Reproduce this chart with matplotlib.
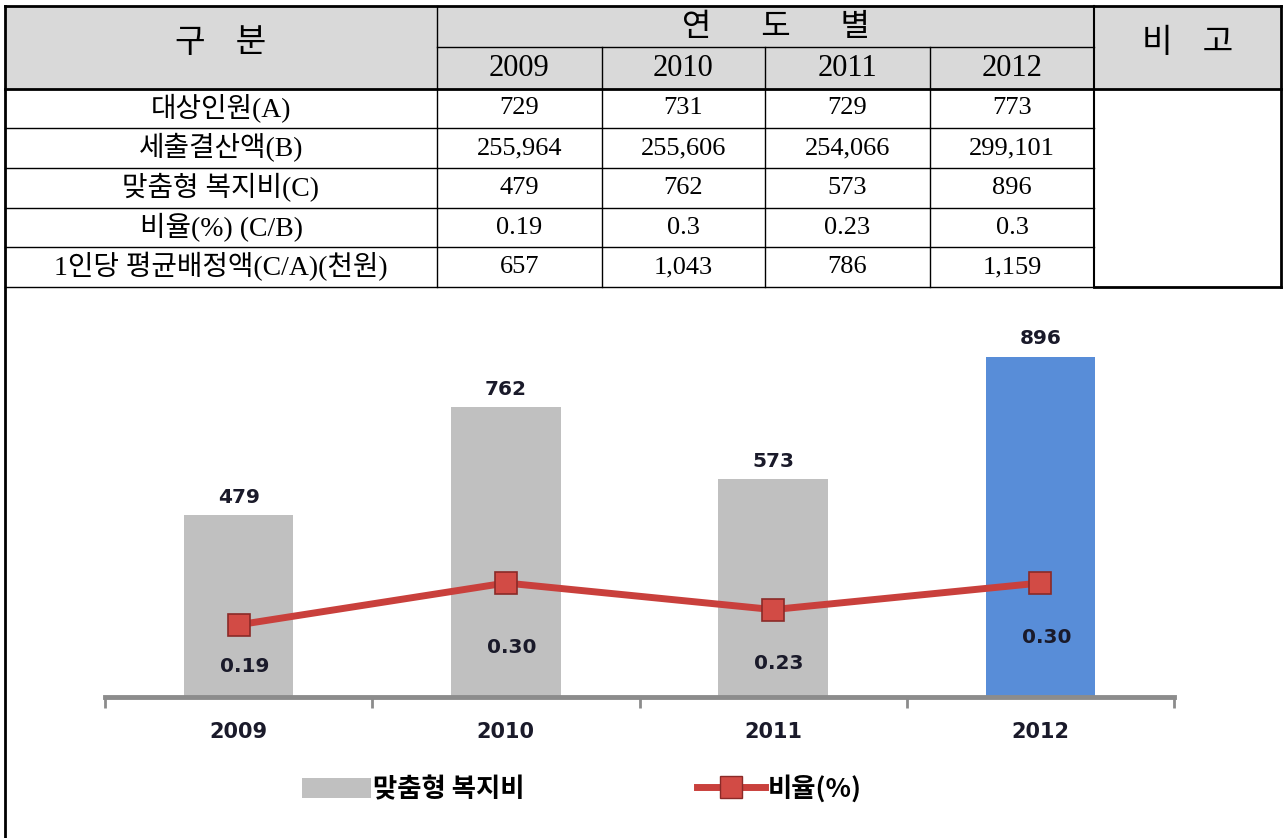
import matplotlib
matplotlib.use("Agg")
import matplotlib.pyplot as plt
from matplotlib.patches import Patch
from matplotlib.lines import Line2D

# data
years = ["2009", "2010", "2011", "2012"]
row_labels = ["대상인원(A)", "세출결산액(B)", "맞춤형 복지비(C)", "비율(%) (C/B)",
              "1인당 평균배정액(C/A)(천원)"]
targets = ["729", "731", "729", "773"]
spending = ["255,964", "255,606", "254,066", "299,101"]
welfare_txt = ["479", "762", "573", "896"]
ratio_txt = ["0.19", "0.3", "0.23", "0.3"]
per_person = ["657", "1,043", "786", "1,159"]

welfare = [479, 762, 573, 896]
ratio = [0.19, 0.30, 0.23, 0.30]

W, H = 1283, 838
fig = plt.figure(figsize=(W / 100, H / 100), dpi=100)

# ---------- table drawn in pixel coords ----------
tab = fig.add_axes([0, 0, 1, 1])
tab.set_xlim(0, W)
tab.set_ylim(H, 0)
tab.axis("off")

cols = [5, 437, 602, 765, 930, 1094, 1281]
rows = [6, 47, 89, 128, 168, 208, 247, 287]
serif = ["Liberation Serif", "Noto Sans CJK KR"]
kfont = ["Noto Sans CJK KR"]

tab.add_patch(plt.Rectangle((cols[0], rows[0]), cols[-1] - cols[0], rows[2] - rows[0],
                            facecolor="#d9d9d9", edgecolor="none", zorder=0))

k = "black"
# outer frame and header lines
tab.plot([cols[0], cols[-1]], [rows[0], rows[0]], color=k, lw=2)
tab.plot([cols[0], cols[0]], [rows[0], H], color=k, lw=2)
tab.plot([cols[-1], cols[-1]], [rows[0], rows[-1]], color=k, lw=2)
tab.plot([cols[0], cols[-1]], [rows[2], rows[2]], color=k, lw=2)
tab.plot([cols[1], cols[5]], [rows[1], rows[1]], color=k, lw=1)
# vertical lines
tab.plot([cols[1], cols[1]], [rows[0], rows[-1]], color=k, lw=1)
tab.plot([cols[5], cols[5]], [rows[0], rows[-1]], color=k, lw=1.5)
for x in cols[2:5]:
    tab.plot([x, x], [rows[1], rows[-1]], color=k, lw=1)
# row lines
for y in rows[3:-1]:
    tab.plot([cols[0], cols[5]], [y, y], color=k, lw=1)
tab.plot([cols[0], cols[5]], [rows[-1], rows[-1]], color=k, lw=1)
tab.plot([cols[5], cols[-1]], [rows[-1], rows[-1]], color=k, lw=2)

# header text
tab.text((cols[0] + cols[1]) / 2, (rows[0] + rows[2]) / 2 - 5, "구    분",
         ha="center", va="center", fontsize=24, family=kfont, fontweight="medium")
tab.text((cols[1] + cols[5]) / 2 + 10, (rows[0] + rows[1]) / 2, "연       도       별",
         ha="center", va="center", fontsize=23, family=kfont, fontweight="medium")
tab.text((cols[5] + cols[6]) / 2, (rows[0] + rows[2]) / 2 - 5, "비    고",
         ha="center", va="center", fontsize=24, family=kfont, fontweight="medium")
for i, yr in enumerate(years):
    tab.text((cols[i + 1] + cols[i + 2]) / 2, (rows[1] + rows[2]) / 2 + 1, yr,
             ha="center", va="center", fontsize=22, family=serif)

body = [targets, spending, welfare_txt, ratio_txt, per_person]
for r, (lab, vals) in enumerate(zip(row_labels, body)):
    yc = (rows[r + 2] + rows[r + 3]) / 2
    tab.text((cols[0] + cols[1]) / 2, yc, lab, ha="center", va="center",
             fontsize=20, family=serif)
    for i, v in enumerate(vals):
        tab.text((cols[i + 1] + cols[i + 2]) / 2, yc, v, ha="center", va="center",
                 fontsize=19, family=serif)

# ---------- chart ----------
ax = fig.add_axes([105 / W, (H - 697) / H, (1174 - 105) / W, (697 - 317) / H])
x = range(len(years))
bar_colors = ["#c0c0c0", "#c0c0c0", "#c0c0c0", "#588dd8"]
ax.bar(x, welfare, width=0.41, color=bar_colors, zorder=2)
ax.set_xlim(-0.5, 3.5)
ax.set_ylim(0, 1000)
for xi, v in zip(x, welfare):
    ax.text(xi, v + 22, str(v), ha="center", va="bottom", fontsize=14.5,
            fontweight="bold", color="#1a1a2a")

for s in ["top", "right", "left"]:
    ax.spines[s].set_visible(False)
ax.spines["bottom"].set_color("#8c8c8c")
ax.spines["bottom"].set_linewidth(3.5)
ax.spines["bottom"].set_zorder(3)
ax.set_yticks([])
ax.set_xticks(list(x))
ax.set_xticklabels(years, fontsize=15, fontweight="bold", color="#1a1a2a")
ax.tick_params(axis="x", which="major", length=0, pad=18)
ax.set_xticks([-0.5, 0.5, 1.5, 2.5, 3.5], minor=True)
ax.tick_params(axis="x", which="minor", length=8, width=2, color="#8c8c8c")

ax2 = ax.twinx()
ax2.set_ylim(0, 1.0)
ax2.axis("off")
ax2.plot(x, ratio, color="#c9403c", lw=5, marker="s", markersize=16,
         markerfacecolor="#d24b45", markeredgecolor="#8a2a28", markeredgewidth=1.2,
         zorder=4)
label_dy = [-42, -64, -54, -54]
for xi, v, dy in zip(x, ratio, label_dy):
    ax2.annotate(f"{v:.2f}", (xi, v), xytext=(6, dy), textcoords="offset pixels",
                 ha="center", va="center", fontsize=14.5, fontweight="bold",
                 color="#1a1a2a")

handles = [Patch(facecolor="#c0c0c0", edgecolor="none"),
           Line2D([], [], color="#c9403c", lw=5, marker="s", markersize=16,
                  markerfacecolor="#d24b45", markeredgecolor="#8a2a28")]
fig.legend(handles, ["맞춤형 복지비", "비율(%)"], loc="center", ncol=2,
           bbox_to_anchor=(582 / W, (H - 789) / H), frameon=False,
           prop={"family": kfont, "weight": "bold", "size": 19},
           handlelength=2.6, handleheight=0.8, columnspacing=6.5, handletextpad=0.1)

fig.savefig("out.png", dpi=100)
